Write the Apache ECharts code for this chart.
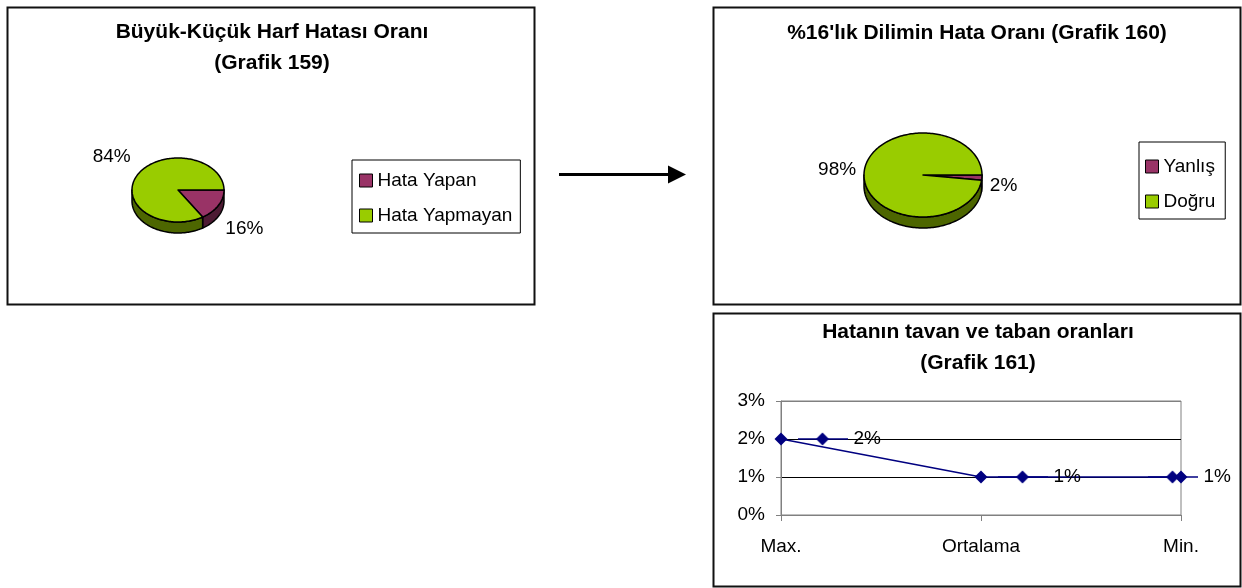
<!DOCTYPE html>
<html>
<head>
<meta charset="utf-8">
<script src="https://cdn.jsdelivr.net/npm/echarts@6/dist/echarts.min.js"></script>
<style>
html,body{margin:0;padding:0;background:#fff;}
#chart{width:1242px;height:588px;}
</style>
</head>
<body>
<div id="chart"></div>
<script>
// ---- data ----
const pie1Title = 'Büyük-Küçük Harf Hatası Oranı\n(Grafik 159)';
const pie1Names = ['Hata Yapan', 'Hata Yapmayan'];
const pie1Values = [16, 84];

const pie2Title = "%16'lık Dilimin Hata Oranı (Grafik 160)";
const pie2Names = ['Yanlış', 'Doğru'];
const pie2Values = [2, 98];

const lineTitle = 'Hatanın tavan ve taban oranları\n(Grafik 161)';
const lineCategories = ['Max.', 'Ortalama', 'Min.'];
const lineValues = [2, 1, 1];
const yTicks = [0, 1, 2, 3];

// ---- styles ----
const FONT = '"Liberation Sans", Arial, sans-serif';
const topColors = ['#993366', '#99CC00'];
const sideColors = ['#4D1A33', '#4D6600'];
const navy = '#000080';

function makePieRender(values, geom) {
  const total = values.reduce((s, v) => s + v, 0);
  const edge = (t, dy) => [geom.cx + geom.rx * Math.cos(t), geom.cy + geom.ry * Math.sin(t) + (dy || 0)];
  const arc = (a, b, dy) => {
    const n = Math.max(2, Math.ceil((b - a) / (Math.PI / 120)));
    const pts = [];
    for (let k = 0; k <= n; k++) pts.push(edge(a + (b - a) * k / n, dy));
    return pts;
  };
  return function (params, api) {
    const i = params.dataIndex;
    let start = 0;
    for (let j = 0; j < i; j++) start += values[j];
    const v = api.value(0);
    const a = start / total * Math.PI * 2;
    const b = (start + v) / total * Math.PI * 2;
    const children = [];
    const sa = Math.max(a, 0), sb = Math.min(b, Math.PI);
    if (sb > sa) {
      const pts = arc(sa, sb, 0).concat(arc(sa, sb, geom.depth).reverse());
      children.push({
        type: 'polygon', shape: { points: pts },
        style: { fill: sideColors[i], stroke: '#000', lineWidth: 1.5, lineJoin: 'round' }
      });
    }
    children.push({
      type: 'polygon', shape: { points: [[geom.cx, geom.cy]].concat(arc(a, b, 0)) },
      style: { fill: topColors[i], stroke: '#000', lineWidth: 1.5, lineJoin: 'round' }
    });
    const m = (a + b) / 2;
    const c = Math.cos(m), s = Math.sin(m);
    children.push({
      type: 'text',
      style: {
        text: v + '%',
        x: geom.cx + c * (geom.rx + 8),
        y: geom.cy + s * (geom.ry + 6) * 1.8 + (s > 0 ? geom.depth * 0.5 : 0),
        align: c >= 0 ? 'left' : 'right',
        verticalAlign: 'middle',
        fontSize: 19, fontFamily: FONT, fill: '#000'
      }
    });
    return { type: 'group', children: children };
  };
}

// legend key image for data labels (line + diamond)
const keyCanvas = document.createElement('canvas');
keyCanvas.width = 50; keyCanvas.height = 14;
(function () {
  const g = keyCanvas.getContext('2d');
  g.strokeStyle = navy; g.lineWidth = 1.5;
  g.beginPath(); g.moveTo(0, 7); g.lineTo(50, 7); g.stroke();
  g.fillStyle = navy;
  g.beginPath(); g.moveTo(25, 0.5); g.lineTo(31.5, 7); g.lineTo(25, 13.5); g.lineTo(18.5, 7); g.closePath(); g.fill();
})();

const chart = echarts.init(document.getElementById('chart'), null, { renderer: 'canvas' });

const titleStyle = { fontSize: 21, fontWeight: 'bold', fontFamily: FONT, color: '#000', lineHeight: 31 };

const option = {
  animation: false,
  textStyle: { fontFamily: FONT },
  title: [
    { text: pie1Title, left: 272, top: 17, padding: 0, textAlign: 'center', textStyle: titleStyle },
    { text: pie2Title, left: 977, top: 18, padding: 0, textAlign: 'center', textStyle: titleStyle },
    { text: lineTitle, left: 978, top: 317, padding: 0, textAlign: 'center', textStyle: titleStyle }
  ],
  legend: [
    {
      data: pie1Names, orient: 'vertical', left: 352, top: 160,
      itemWidth: 13, itemHeight: 13, itemGap: 16, icon: 'rect',
      padding: [11, 8, 8, 7], borderColor: '#000', borderWidth: 1, borderRadius: 0,
      itemStyle: { borderColor: '#000', borderWidth: 1 },
      textStyle: { fontSize: 19, fontFamily: FONT, color: '#000' },
      selectedMode: false
    },
    {
      data: pie2Names, orient: 'vertical', left: 1139, top: 142,
      itemWidth: 13, itemHeight: 13, itemGap: 16, icon: 'rect',
      padding: [15, 10, 8, 6], borderColor: '#000', borderWidth: 1, borderRadius: 0,
      itemStyle: { borderColor: '#000', borderWidth: 1 },
      textStyle: { fontSize: 19, fontFamily: FONT, color: '#000' },
      selectedMode: false
    }
  ],
  grid: {
    left: 781, top: 401, width: 400, height: 114,
    show: true, borderColor: '#808080', borderWidth: 1, backgroundColor: 'transparent'
  },
  xAxis: {
    type: 'category', data: lineCategories, boundaryGap: false,
    axisLine: { lineStyle: { color: '#808080', width: 1 } },
    axisTick: { show: true, length: 6, lineStyle: { color: '#808080' } },
    axisLabel: { fontSize: 19, color: '#000', margin: 22, fontFamily: FONT, showMinLabel: true, showMaxLabel: true },
    splitLine: { show: false }
  },
  yAxis: {
    type: 'value', min: yTicks[0], max: yTicks[yTicks.length - 1], interval: 1,
    axisLine: { show: true, lineStyle: { color: '#808080', width: 1 } },
    axisTick: { show: true, length: 5, lineStyle: { color: '#808080' } },
    axisLabel: { fontSize: 19, color: '#000', margin: 16, fontFamily: FONT, formatter: '{value}%' },
    splitLine: { show: true, lineStyle: { color: ['#808080', '#000', '#000', '#808080'], width: 1 } }
  },
  series: [
    {
      type: 'custom', name: 'pie1', coordinateSystem: 'none',
      data: pie1Values, renderItem: makePieRender(pie1Values, { cx: 178, cy: 190, rx: 46, ry: 32, depth: 11 }),
      silent: true
    },
    {
      type: 'custom', name: 'pie2', coordinateSystem: 'none',
      data: pie2Values, renderItem: makePieRender(pie2Values, { cx: 923, cy: 175, rx: 59, ry: 42, depth: 11 }),
      silent: true
    },
    {
      type: 'pie', name: 'legend1', radius: [0, 0], center: [178, 190], silent: true,
      label: { show: false }, labelLine: { show: false },
      data: pie1Names.map((n, i) => ({ name: n, value: pie1Values[i], itemStyle: { color: topColors[i] } }))
    },
    {
      type: 'pie', name: 'legend2', radius: [0, 0], center: [923, 175], silent: true,
      label: { show: false }, labelLine: { show: false },
      data: pie2Names.map((n, i) => ({ name: n, value: pie2Values[i], itemStyle: { color: topColors[i] } }))
    },
    {
      type: 'line', name: 'Hata', data: lineValues.map((v, i) =>
        i === lineValues.length - 1 ? { value: v, label: { offset: [-50, 0] } } : v),
      symbol: 'diamond', symbolSize: 13,
      itemStyle: { color: navy },
      lineStyle: { color: navy, width: 1.5 },
      label: {
        show: true, position: 'right', distance: 10,
        formatter: p => '{k|}{t|' + p.value + '%}',
        rich: {
          k: { width: 50, height: 14, backgroundColor: { image: keyCanvas } },
          t: { fontSize: 19, color: '#000', fontFamily: FONT, padding: [0, 0, 0, 6] }
        }
      },
      z: 5
    }
  ],
  graphic: [
    { type: 'rect', shape: { x: 7.5, y: 7.5, width: 527, height: 297 }, style: { fill: 'none', stroke: '#111', lineWidth: 2 }, z: -1 },
    { type: 'rect', shape: { x: 713.5, y: 7.5, width: 527, height: 297 }, style: { fill: 'none', stroke: '#111', lineWidth: 2 }, z: -1 },
    { type: 'rect', shape: { x: 713.5, y: 313.5, width: 527, height: 273 }, style: { fill: 'none', stroke: '#111', lineWidth: 2 }, z: -1 },
    { type: 'line', shape: { x1: 559, y1: 174.5, x2: 672, y2: 174.5 }, style: { stroke: '#000', lineWidth: 3 } },
    { type: 'polygon', shape: { points: [[668, 165.5], [686, 174.5], [668, 183.5]] }, style: { fill: '#000' } }
  ]
};

chart.setOption(option);
</script>
</body>
</html>
